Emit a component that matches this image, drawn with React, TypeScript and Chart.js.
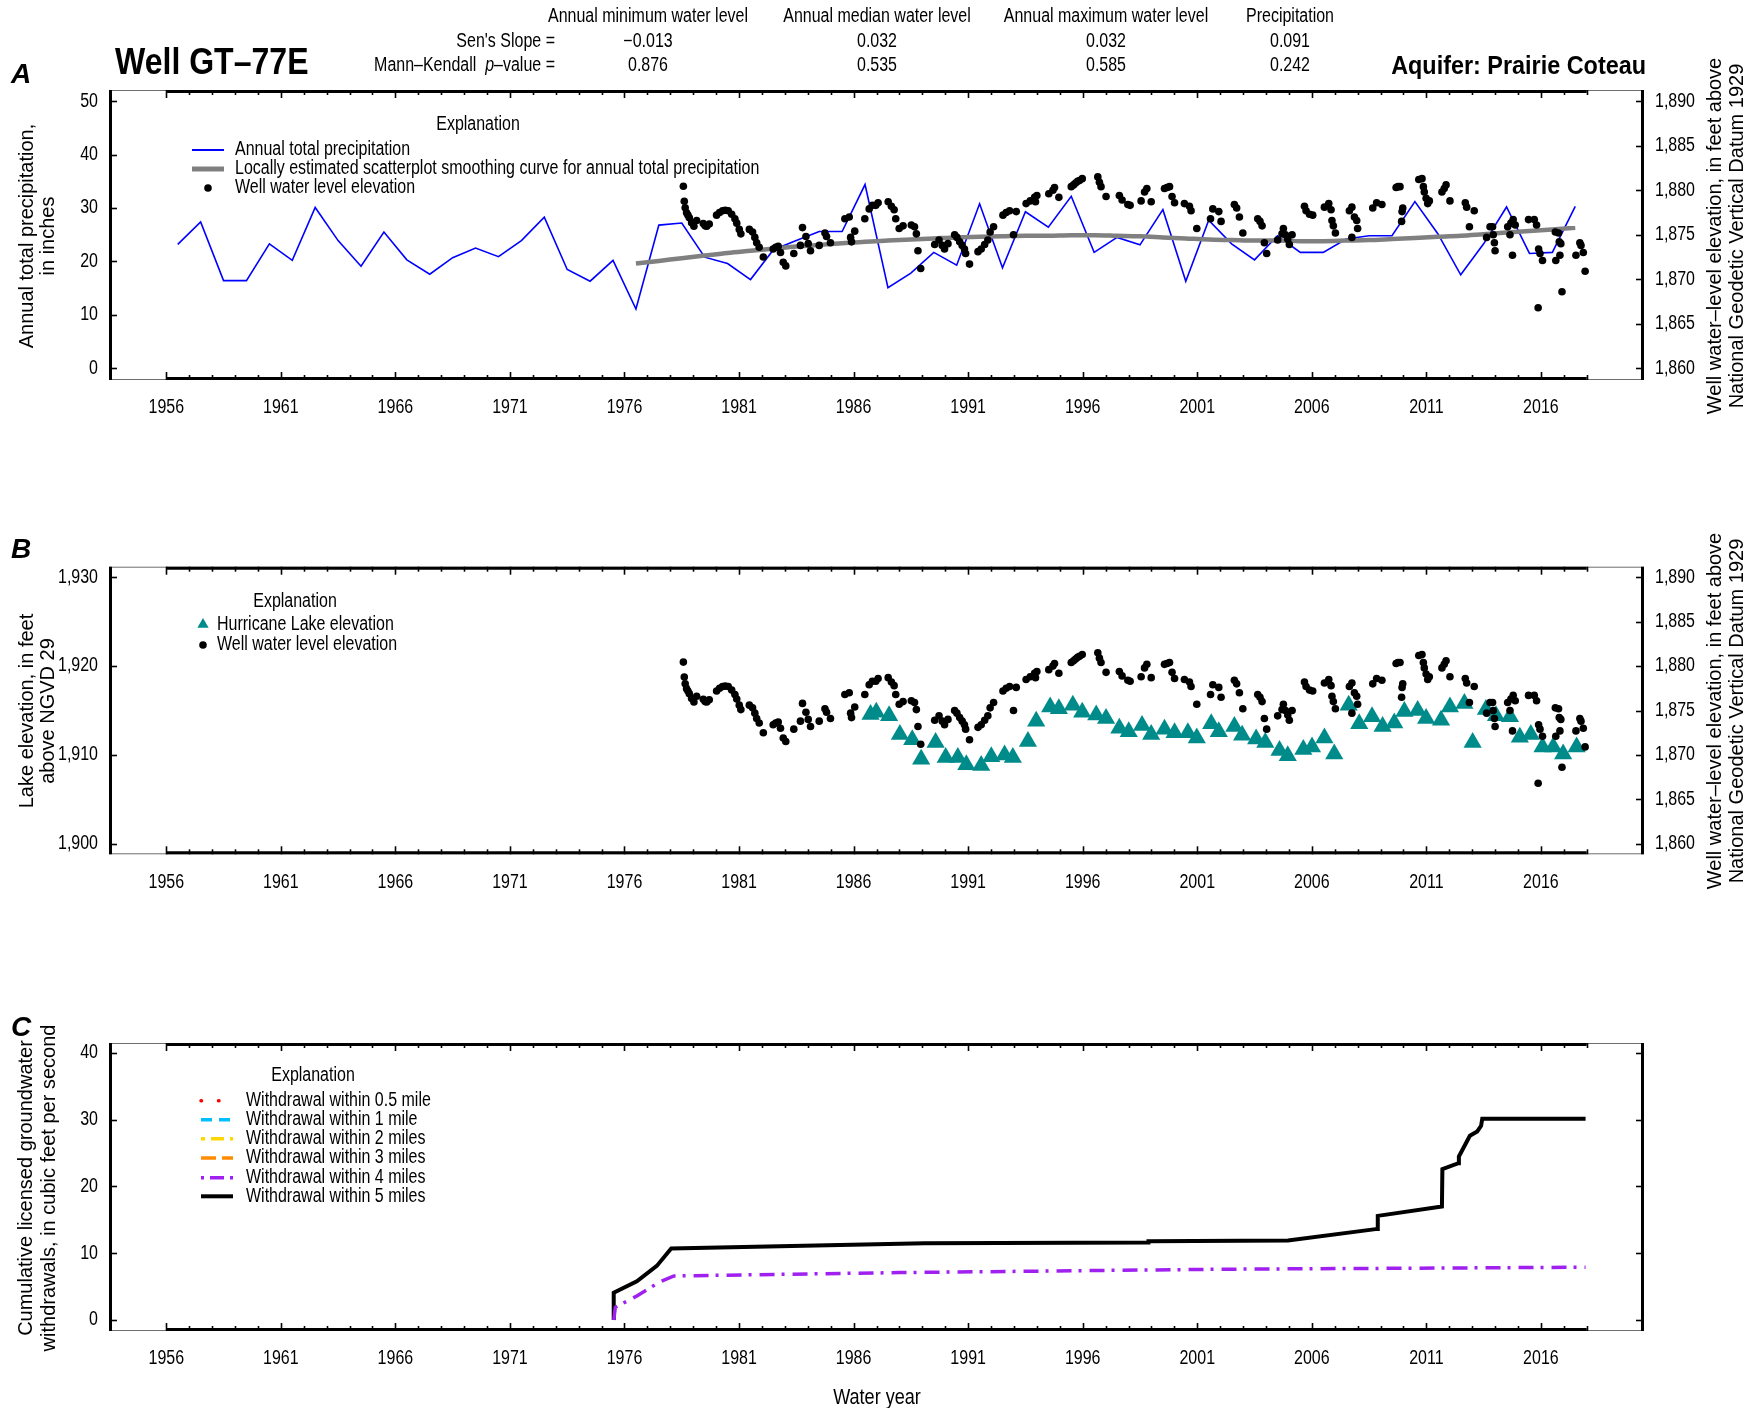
import React, { useEffect, useRef } from "react";
import { Chart, registerables } from "chart.js";

Chart.register(...registerables);

const ARIAL = '"Liberation Sans", Arial, Helvetica, sans-serif';
const NARROW_SCALE = 0.82; // Arial-Narrow-like compression of Liberation Sans

// ---------------- data ----------------
const PRECIP_YEARS = [
  1956, 1957, 1958, 1959, 1960, 1961, 1962, 1963, 1964, 1965, 1966, 1967, 1968, 1969, 1970, 1971,
  1972, 1973, 1974, 1975, 1976, 1977, 1978, 1979, 1980, 1981, 1982, 1983, 1984, 1985, 1986, 1987,
  1988, 1989, 1990, 1991, 1992, 1993, 1994, 1995, 1996, 1997, 1998, 1999, 2000, 2001, 2002, 2003,
  2004, 2005, 2006, 2007, 2008, 2009, 2010, 2011, 2012, 2013, 2014, 2015, 2016, 2017,
];
const PRECIP_INCHES = [
  23.2, 27.4, 16.4, 16.4, 23.3, 20.2, 30.1, 23.9, 19.1, 25.5, 20.3, 17.6, 20.7, 22.5, 20.9, 23.9,
  28.3, 18.5, 16.3, 20.2, 11.1, 26.8, 27.2, 20.8, 19.6, 16.6, 22.2, 23.9, 25.6, 25.6, 34.4, 15.1,
  17.8, 21.7, 19.3, 30.8, 18.8, 29.3, 26.4, 32.2, 21.7, 24.5, 23.1, 29.7, 16.3, 27.7, 23.3, 20.3,
  24.8, 21.7, 21.7, 24.2, 24.8, 24.8, 31.2, 25.2, 17.5, 23.3, 30.2, 21.5, 21.7, 30.3,
];
const LOESS_YEARS = [
  1976, 1977, 1978, 1979, 1980, 1981, 1982, 1983, 1984, 1985, 1986, 1987, 1988, 1989, 1990, 1991,
  1992, 1993, 1994, 1995, 1996, 1997, 1998, 1999, 2000, 2001, 2002, 2003, 2004, 2005, 2006, 2007,
  2008, 2009, 2010, 2011, 2012, 2013, 2014, 2015, 2016, 2017,
];
const LOESS_INCHES = [
  19.6, 20.1, 20.6, 21.1, 21.6, 22.0, 22.4, 22.8, 23.1, 23.4, 23.7, 23.9, 24.1, 24.3, 24.5, 24.6,
  24.7, 24.8, 24.8, 24.9, 24.9, 24.8, 24.7, 24.5, 24.3, 24.1, 24.0, 23.9, 23.9, 23.8, 23.8, 23.9,
  24.0, 24.2, 24.4, 24.6, 24.8, 25.1, 25.4, 25.7, 26.0, 26.3,
];

// [decimal year, well water-level elevation (ft above NGVD 29)]
const WELL_LEVELS: [number, number][] = [
  [1978.57, 1880.45], [1978.61, 1878.76], [1978.65, 1878.02], [1978.71, 1877.46], [1978.77, 1877.2],
  [1978.83, 1876.9], [1978.93, 1876.34], [1979.03, 1875.96], [1979.15, 1876.6], [1979.44, 1876.26],
  [1979.52, 1876.0], [1979.59, 1875.96], [1979.7, 1876.2], [1980.02, 1877.2], [1980.15, 1877.5],
  [1980.28, 1877.7], [1980.4, 1877.75], [1980.53, 1877.7], [1980.68, 1877.3], [1980.82, 1876.8],
  [1980.9, 1876.3], [1981.01, 1875.6], [1981.08, 1875.1], [1981.45, 1875.6], [1981.59, 1875.3],
  [1981.69, 1874.7], [1981.77, 1874.1], [1981.88, 1873.6], [1982.06, 1872.5], [1982.49, 1873.4],
  [1982.6, 1873.6], [1982.71, 1873.7], [1982.81, 1873.0], [1982.93, 1871.9], [1983.04, 1871.5],
  [1983.39, 1872.9], [1983.68, 1873.8], [1983.77, 1875.8], [1983.92, 1874.8], [1984.02, 1874.0],
  [1984.12, 1873.2], [1984.5, 1873.8], [1984.75, 1875.2], [1984.82, 1874.8], [1984.99, 1874.1],
  [1985.62, 1876.8], [1985.81, 1877.0], [1985.87, 1874.7], [1985.91, 1874.2], [1986.05, 1875.4],
  [1986.49, 1876.8], [1986.68, 1877.9], [1986.82, 1878.3], [1986.97, 1878.3], [1987.07, 1878.6],
  [1987.51, 1878.7], [1987.65, 1878.2], [1987.77, 1877.8], [1987.84, 1876.8], [1987.99, 1875.7],
  [1988.16, 1876.0], [1988.52, 1876.1], [1988.66, 1875.9], [1988.74, 1875.1], [1988.81, 1873.2],
  [1988.93, 1871.2], [1989.54, 1873.9], [1989.73, 1874.4], [1989.87, 1873.8], [1989.97, 1873.4],
  [1990.12, 1874.0], [1990.41, 1875.0], [1990.51, 1874.7], [1990.63, 1874.2], [1990.74, 1873.8],
  [1990.84, 1873.4], [1990.89, 1872.9], [1991.06, 1871.7], [1991.43, 1873.1], [1991.57, 1873.4],
  [1991.72, 1873.9], [1991.86, 1874.4], [1991.96, 1875.3], [1992.11, 1875.9], [1992.52, 1877.2],
  [1992.66, 1877.5], [1992.81, 1877.7], [1992.98, 1875.0], [1993.1, 1877.6], [1993.53, 1878.5],
  [1993.71, 1878.8], [1993.9, 1879.2], [1993.94, 1878.7], [1994.0, 1879.4], [1994.52, 1879.6],
  [1994.7, 1880.0], [1994.77, 1880.3], [1994.96, 1879.2], [1995.5, 1880.4], [1995.6, 1880.6],
  [1995.69, 1880.8], [1995.78, 1881.0], [1995.86, 1881.1], [1995.98, 1881.3], [1996.66, 1881.5],
  [1996.73, 1880.9], [1996.8, 1880.4], [1997.02, 1879.3], [1997.6, 1879.4], [1997.72, 1878.9],
  [1997.97, 1878.4], [1998.07, 1878.3], [1998.55, 1878.8], [1998.7, 1879.8], [1998.8, 1880.2],
  [1998.99, 1878.7], [1999.57, 1880.2], [1999.68, 1880.3], [1999.79, 1880.4], [1999.9, 1879.3],
  [2000.01, 1878.6], [2000.44, 1878.5], [2000.66, 1878.2], [2000.73, 1877.7], [2000.98, 1875.7],
  [2001.58, 1876.8], [2001.68, 1877.9], [2001.94, 1877.6], [2002.04, 1876.5], [2002.62, 1878.4],
  [2002.72, 1878.0], [2002.84, 1877.0], [2002.99, 1875.2], [2003.64, 1876.8], [2003.74, 1876.5],
  [2003.83, 1876.0], [2003.93, 1874.1], [2004.03, 1872.9], [2004.51, 1874.4], [2004.7, 1875.1],
  [2004.76, 1875.7], [2004.85, 1875.0], [2004.95, 1874.5], [2005.02, 1873.9], [2005.14, 1875.0],
  [2005.68, 1878.2], [2005.75, 1877.7], [2005.9, 1877.3], [2006.04, 1877.2], [2006.55, 1878.1],
  [2006.74, 1878.5], [2006.84, 1877.8], [2006.88, 1876.6], [2006.94, 1876.0], [2007.03, 1875.2],
  [2007.64, 1877.7], [2007.75, 1878.1], [2007.75, 1874.7], [2007.86, 1877.0], [2007.96, 1876.6],
  [2008.0, 1875.7], [2008.66, 1878.0], [2008.83, 1878.6], [2009.06, 1878.4], [2009.68, 1880.3],
  [2009.76, 1880.4], [2009.85, 1880.4], [2009.97, 1878.0], [2009.94, 1877.6], [2009.92, 1876.5],
  [2010.67, 1881.2], [2010.81, 1881.3], [2010.87, 1880.4], [2010.91, 1879.8], [2010.99, 1879.1],
  [2011.06, 1878.5], [2011.13, 1878.8], [2011.68, 1879.8], [2011.78, 1880.2], [2011.86, 1880.6],
  [2012.03, 1878.8], [2012.7, 1878.6], [2012.76, 1878.1], [2012.88, 1875.9], [2013.09, 1877.7],
  [2013.63, 1874.7], [2013.78, 1875.9], [2013.89, 1875.9], [2013.92, 1875.0], [2013.97, 1874.1],
  [2014.0, 1873.2], [2014.55, 1875.9], [2014.65, 1875.0], [2014.69, 1876.3], [2014.79, 1876.7],
  [2014.88, 1876.1], [2014.76, 1872.7], [2015.46, 1876.7], [2015.71, 1876.7], [2015.81, 1876.1],
  [2015.88, 1866.8], [2015.9, 1873.4], [2015.96, 1872.9], [2016.07, 1872.1], [2016.63, 1875.3],
  [2016.77, 1875.2], [2016.8, 1874.2], [2016.87, 1874.0], [2016.83, 1872.7], [2016.65, 1872.1],
  [2016.92, 1868.6], [2017.53, 1872.7], [2017.7, 1874.1], [2017.75, 1873.8], [2017.85, 1873.0],
  [2017.93, 1870.9],
];

// [decimal year, Hurricane Lake elevation (ft above NGVD 29)]
const LAKE_LEVELS: [number, number][] = [
  [1986.74, 1914.55], [1986.99, 1914.8], [1987.55, 1914.4], [1988.02, 1912.3], [1988.56, 1911.7],
  [1988.95, 1909.5], [1989.58, 1911.4], [1990.02, 1909.7], [1990.55, 1909.7], [1990.92, 1908.9],
  [1991.57, 1908.8], [1992.01, 1909.8], [1992.59, 1910.0], [1992.95, 1909.7], [1993.61, 1911.5],
  [1993.97, 1913.8], [1994.58, 1915.4], [1994.96, 1915.2], [1995.57, 1915.6], [1995.98, 1914.8],
  [1996.59, 1914.5], [1997.02, 1914.1], [1997.6, 1913.0], [1998.01, 1912.6], [1998.59, 1913.3],
  [1998.99, 1912.3], [1999.57, 1912.9], [2000.01, 1912.5], [2000.59, 1912.5], [2000.98, 1911.9],
  [2001.61, 1913.5], [2001.94, 1912.6], [2002.62, 1913.2], [2002.96, 1912.2], [2003.57, 1911.8],
  [2003.97, 1911.4], [2004.59, 1910.5], [2004.95, 1909.9], [2005.63, 1910.6], [2006.01, 1910.9],
  [2006.55, 1911.9], [2006.98, 1910.1], [2007.61, 1915.6], [2008.07, 1913.5], [2008.63, 1914.3],
  [2009.09, 1913.2], [2009.6, 1913.6], [2010.04, 1914.9], [2010.62, 1915.0], [2010.99, 1914.1],
  [2011.64, 1913.9], [2012.03, 1915.4], [2012.66, 1915.8], [2013.02, 1911.4], [2013.6, 1915.1],
  [2014.04, 1914.4], [2014.65, 1914.3], [2015.08, 1912.0], [2015.56, 1912.3], [2016.07, 1910.9],
  [2016.54, 1910.9], [2016.97, 1910.1], [2017.56, 1910.9],
];

// cumulative licensed withdrawals, [decimal year, cubic feet per second]
const WITHDRAWAL_05MI: [number, number][] = [];
const WITHDRAWAL_1MI: [number, number][] = [];
const WITHDRAWAL_2MI: [number, number][] = [];
const WITHDRAWAL_3MI: [number, number][] = [];
const WITHDRAWAL_4MI: [number, number][] = [
  [1975.53, 0], [1975.6, 1.9], [1976.54, 3.6], [1977.54, 5.7], [1978.16, 6.6], [1988.0, 7.1],
  [2001.8, 7.6], [2017.95, 7.9],
];
const WITHDRAWAL_5MI: [number, number][] = [
  [1975.53, 0], [1975.53, 4.1], [1976.54, 5.8], [1977.41, 8.1], [1978.04, 10.7], [1989.1, 11.5],
  [1998.86, 11.6], [1998.87, 11.8], [2004.96, 11.9], [2008.87, 13.65], [2008.88, 15.6],
  [2011.68, 17.0], [2011.7, 22.6], [2012.4, 23.5], [2012.42, 24.5], [2012.9, 27.6],
  [2013.22, 28.25], [2013.39, 29.1], [2013.44, 30.15], [2017.95, 30.15],
];
const WITHDRAWAL_LABELS = [
  "Withdrawal within 0.5 mile",
  "Withdrawal within 1 mile",
  "Withdrawal within 2 miles",
  "Withdrawal within 3 miles",
  "Withdrawal within 4 miles",
  "Withdrawal within 5 miles",
];

const X_TICK_LABELS = [1956, 1961, 1966, 1971, 1976, 1981, 1986, 1991, 1996, 2001, 2006, 2011, 2016];
const X_AXIS_FIRST_YEAR = 1956;
const X_AXIS_LAST_YEAR = 2018;
const PRECIP_TICKS = [0, 10, 20, 30, 40, 50];
const WELL_TICKS = [1860, 1865, 1870, 1875, 1880, 1885, 1890];
const LAKE_TICKS = [1900, 1910, 1920, 1930];
const WITHDRAWAL_TICKS = [0, 10, 20, 30, 40];

const STAT_HEADERS = [
  "Annual minimum water level",
  "Annual median water level",
  "Annual maximum water level",
  "Precipitation",
];
const SENS_SLOPE = ["\u22120.013", "0.032", "0.032", "0.091"];
const MK_PVALUE = ["0.876", "0.535", "0.585", "0.242"];

// ---------------- layout constants ----------------
const W = 1758;
const PLOT_LEFT = 109;
const PLOT_RIGHT = 1644;
const X_MIN = 1953.5;
const X_MAX = 2020.5;
const LABEL_FONT = `19.5px ${ARIAL}`;
const STAT_COLS = [648, 877, 1106, 1290];

const fmtComma = (v: number) => Math.round(v).toLocaleString("en-US");
const fmtPlain = (v: number) => String(v);

function narrowText(
  ctx: CanvasRenderingContext2D,
  text: string,
  x: number,
  y: number,
  align: CanvasTextAlign,
  font = LABEL_FONT
) {
  ctx.save();
  ctx.font = font;
  ctx.fillStyle = "#000";
  ctx.textBaseline = "middle";
  ctx.textAlign = align;
  ctx.translate(x, y);
  ctx.scale(NARROW_SCALE, 1);
  ctx.fillText(text, 0, 0);
  ctx.restore();
}

function xScale(axisHeight: number) {
  return {
    type: "linear",
    min: X_MIN,
    max: X_MAX,
    afterBuildTicks: (s: any) => {
      s.ticks = X_TICK_LABELS.map((v) => ({ value: v }));
    },
    afterFit: (s: any) => {
      s.height = axisHeight;
    },
    ticks: { display: false },
    grid: { display: false, drawTicks: false },
    border: { display: false },
  };
}

function yScale(min: number, max: number, ticks: number[], position: "left" | "right") {
  return {
    type: "linear",
    position,
    min,
    max,
    afterBuildTicks: (s: any) => {
      s.ticks = ticks.map((v) => ({ value: v }));
    },
    afterFit: (s: any) => {
      s.width = position === "left" ? PLOT_LEFT : W - PLOT_RIGHT;
    },
    ticks: { display: false },
    grid: { display: false, drawTicks: false },
    border: { display: false },
  };
}

// frame, axis lines, inward tick marks and tick labels (from the chart's scales)
function makeFramePlugin(leftFmt: (v: number) => string, rightFmt: ((v: number) => string) | null) {
  return {
    id: "frame",
    afterDatasetsDraw(chart: any) {
      const { ctx, chartArea: a, scales } = chart;
      const x = scales.x;
      const yl = scales.y;
      const yr = scales.y2 || scales.y;
      const seg = (x0: number, y0: number, x1: number, y1: number) => {
        ctx.beginPath();
        ctx.moveTo(x0, y0);
        ctx.lineTo(x1, y1);
        ctx.stroke();
      };
      ctx.save();
      ctx.strokeStyle = "#6e6e6e";
      ctx.lineWidth = 1;
      ctx.strokeRect(a.left + 0.5, a.top + 0.5, a.right - a.left - 1, a.bottom - a.top - 1);
      ctx.strokeStyle = "#000";
      ctx.lineWidth = 3;
      const xa = x.getPixelForValue(X_AXIS_FIRST_YEAR);
      const xb = x.getPixelForValue(X_AXIS_LAST_YEAR);
      seg(xa, a.top + 1.5, xb, a.top + 1.5);
      seg(xa, a.bottom - 1.5, xb, a.bottom - 1.5);
      seg(a.left + 1.5, a.top, a.left + 1.5, a.bottom);
      seg(a.right - 1.5, a.top, a.right - 1.5, a.bottom);
      ctx.lineWidth = 1.6;
      for (let yv = X_AXIS_FIRST_YEAR; yv <= X_AXIS_LAST_YEAR; yv++) {
        const px = Math.round(x.getPixelForValue(yv)) + 0.5;
        const len = (yv - X_AXIS_FIRST_YEAR) % 5 === 0 ? 8 : 5;
        seg(px, a.top, px, a.top + len);
        seg(px, a.bottom, px, a.bottom - len);
      }
      yl.ticks.forEach((t: any) => {
        const py = Math.round(yl.getPixelForValue(t.value)) + 0.5;
        seg(a.left, py, a.left + 8, py);
      });
      yr.ticks.forEach((t: any) => {
        const py = Math.round(yr.getPixelForValue(t.value)) + 0.5;
        seg(a.right, py, a.right - 8, py);
      });
      ctx.restore();

      // tick labels
      x.ticks.forEach((t: any) => {
        narrowText(ctx, String(t.value), x.getPixelForValue(t.value), a.bottom + 28, "center");
      });
      yl.ticks.forEach((t: any) => {
        narrowText(ctx, leftFmt(t.value), a.left - 11, yl.getPixelForValue(t.value), "right");
      });
      if (rightFmt && scales.y2) {
        scales.y2.ticks.forEach((t: any) => {
          narrowText(ctx, rightFmt(t.value), a.right + 11, scales.y2.getPixelForValue(t.value), "left");
        });
      }
    },
  };
}

type Sample = (ctx: CanvasRenderingContext2D, x0: number, x1: number, y: number) => void;
const lineSample =
  (color: string, width: number, dash: number[], cap: CanvasLineCap = "butt"): Sample =>
  (ctx, x0, x1, y) => {
    ctx.strokeStyle = color;
    ctx.lineWidth = width;
    ctx.setLineDash(dash);
    ctx.lineCap = cap;
    ctx.beginPath();
    ctx.moveTo(x0, y);
    ctx.lineTo(x1, y);
    ctx.stroke();
  };
const dotSample =
  (color: string, r: number): Sample =>
  (ctx, x0, x1, y) => {
    ctx.fillStyle = color;
    ctx.beginPath();
    ctx.arc((x0 + x1) / 2, y, r, 0, Math.PI * 2);
    ctx.fill();
  };
const triSample =
  (color: string, r: number): Sample =>
  (ctx, x0, x1, y) => {
    const cx = (x0 + x1) / 2;
    ctx.fillStyle = color;
    ctx.beginPath();
    ctx.moveTo(cx, y - r);
    ctx.lineTo(cx + r * 0.866, y + r / 2);
    ctx.lineTo(cx - r * 0.866, y + r / 2);
    ctx.closePath();
    ctx.fill();
  };

function legendPlugin(
  titleX: number,
  titleY: number,
  sx0: number,
  sx1: number,
  textX: number,
  rows: { y: number; label: string; sample: Sample }[]
) {
  return {
    id: "explanation",
    afterDraw(chart: any) {
      const ctx: CanvasRenderingContext2D = chart.ctx;
      narrowText(ctx, "Explanation", titleX, titleY, "center");
      rows.forEach((r) => {
        ctx.save();
        r.sample(ctx, sx0, sx1, r.y);
        ctx.restore();
        narrowText(ctx, r.label, textX, r.y, "left");
      });
    },
  };
}

const pts = (arr: [number, number][]) => arr.map(([x, y]) => ({ x, y }));

const COMMON_OPTS = {
  responsive: false,
  animation: false,
  devicePixelRatio: 1,
  events: [],
  plugins: { legend: { display: false }, tooltip: { enabled: false } },
};

// ---------------- panel configs ----------------
const A_TOP = 0, A_H = 440;
const B_TOP = 440, B_H = 460;
const C_TOP = 900, C_H = 508;

function configA(): any {
  const precipLabel = "Annual total precipitation";
  const loessLabel = "Locally estimated scatterplot smoothing curve for annual total precipitation";
  const wellLabel = "Well water level elevation";
  return {
    type: "scatter",
    data: {
      datasets: [
        {
          label: wellLabel,
          yAxisID: "y2",
          data: pts(WELL_LEVELS),
          pointRadius: 3.8,
          pointBackgroundColor: "#000",
          pointBorderWidth: 0,
          showLine: false,
        },
        {
          label: loessLabel,
          yAxisID: "y",
          data: LOESS_YEARS.map((yr, i) => ({ x: yr + 0.5, y: LOESS_INCHES[i] })),
          showLine: true,
          borderColor: "#808080",
          borderWidth: 4.5,
          pointRadius: 0,
          cubicInterpolationMode: "monotone",
        },
        {
          label: precipLabel,
          yAxisID: "y",
          data: PRECIP_YEARS.map((yr, i) => ({ x: yr + 0.5, y: PRECIP_INCHES[i] })),
          showLine: true,
          borderColor: "#0000ff",
          borderWidth: 1.6,
          pointRadius: 0,
        },
      ],
    },
    options: {
      ...COMMON_OPTS,
      layout: { padding: { top: 90 - A_TOP, left: 0, right: 0, bottom: 0 } },
      scales: {
        x: xScale(A_H - (380 - A_TOP)),
        y: yScale(-2.2, 52.1, PRECIP_TICKS, "left"),
        y2: yScale(1860 - 2.2 * 0.6, 1860 + 52.1 * 0.6, WELL_TICKS, "right"),
      },
    },
    plugins: [
      makeFramePlugin(fmtPlain, fmtComma),
      legendPlugin(478, 125 - A_TOP, 192, 224, 235, [
        { y: 150 - A_TOP, label: precipLabel, sample: lineSample("#0000ff", 2, []) },
        { y: 169 - A_TOP, label: loessLabel, sample: lineSample("#808080", 5, []) },
        { y: 188 - A_TOP, label: wellLabel, sample: dotSample("#000", 3.8) },
      ]),
    ],
  };
}

function configB(): any {
  const lakeLabel = "Hurricane Lake elevation";
  const wellLabel = "Well water level elevation";
  return {
    type: "scatter",
    data: {
      datasets: [
        {
          label: wellLabel,
          yAxisID: "y2",
          data: pts(WELL_LEVELS),
          pointRadius: 3.8,
          pointBackgroundColor: "#000",
          pointBorderWidth: 0,
        },
        {
          label: lakeLabel,
          yAxisID: "y",
          data: pts(LAKE_LEVELS),
          pointStyle: "triangle",
          pointRadius: 10.5,
          pointBackgroundColor: "#008b8b",
          pointBorderWidth: 0,
        },
      ],
    },
    options: {
      ...COMMON_OPTS,
      layout: { padding: { top: 566.7 - B_TOP, left: 0, right: 0, bottom: 0 } },
      scales: {
        x: xScale(B_H - (854.3 - B_TOP)),
        y: yScale(1898.8, 1931.2, LAKE_TICKS, "left"),
        y2: yScale(1858.8, 1891.2, WELL_TICKS, "right"),
      },
    },
    plugins: [
      makeFramePlugin(fmtComma, fmtComma),
      legendPlugin(295, 602 - B_TOP, 193, 213, 217, [
        { y: 624.5 - B_TOP, label: lakeLabel, sample: triSample("#008b8b", 6.5) },
        { y: 645 - B_TOP, label: wellLabel, sample: dotSample("#000", 3.8) },
      ]),
    ],
  };
}

const WITHDRAWAL_STYLES = [
  { color: "#ff0000", dash: [0.5, 17], cap: "round" as CanvasLineCap, width: 3.5 },
  { color: "#00bfff", dash: [11, 7], cap: "butt" as CanvasLineCap, width: 3.5 },
  { color: "#ffd700", dash: [4, 6, 13, 6], cap: "butt" as CanvasLineCap, width: 3.5 },
  { color: "#ff8c00", dash: [15, 6], cap: "butt" as CanvasLineCap, width: 3.5 },
  { color: "#a020f0", dash: [3, 6, 14, 6], cap: "butt" as CanvasLineCap, width: 3.5 },
  { color: "#000000", dash: [], cap: "butt" as CanvasLineCap, width: 4 },
];

function configC(): any {
  const series = [WITHDRAWAL_05MI, WITHDRAWAL_1MI, WITHDRAWAL_2MI, WITHDRAWAL_3MI, WITHDRAWAL_4MI, WITHDRAWAL_5MI];
  const rowsY = [1100.7, 1119.7, 1138.7, 1158, 1177.7, 1196.3];
  return {
    type: "scatter",
    data: {
      datasets: series.map((s, i) => ({
        label: WITHDRAWAL_LABELS[i],
        data: pts(s),
        showLine: true,
        borderColor: WITHDRAWAL_STYLES[i].color,
        borderWidth: WITHDRAWAL_STYLES[i].width,
        borderDash: i === 4 ? [15, 7, 3, 8] : WITHDRAWAL_STYLES[i].dash,
        borderCapStyle: WITHDRAWAL_STYLES[i].cap,
        borderJoinStyle: "miter",
        pointRadius: 0,
      })),
    },
    options: {
      ...COMMON_OPTS,
      layout: { padding: { top: 1043 - C_TOP, left: 0, right: W - PLOT_RIGHT, bottom: 0 } },
      scales: {
        x: xScale(C_H - (1331 - C_TOP)),
        y: yScale(-1.65, 41.5, WITHDRAWAL_TICKS, "left"),
      },
    },
    plugins: [
      makeFramePlugin(fmtPlain, null),
      legendPlugin(
        313,
        1076 - C_TOP,
        201,
        233,
        246,
        WITHDRAWAL_LABELS.map((label, i) => ({
          y: rowsY[i] - C_TOP,
          label,
          sample: lineSample(WITHDRAWAL_STYLES[i].color, WITHDRAWAL_STYLES[i].width, WITHDRAWAL_STYLES[i].dash, WITHDRAWAL_STYLES[i].cap),
        }))
      ),
    ],
  };
}

// ---------------- components ----------------
function ChartCanvas({ top, height, build }: { top: number; height: number; build: () => any }) {
  const ref = useRef<HTMLCanvasElement>(null);
  useEffect(() => {
    const chart = new Chart(ref.current as HTMLCanvasElement, build());
    return () => chart.destroy();
  }, []);
  return (
    <canvas
      ref={ref}
      width={W}
      height={height}
      style={{ position: "absolute", left: 0, top, width: W, height, display: "block" }}
    />
  );
}

function Txt({
  x,
  y,
  align = "center",
  size = 19.5,
  weight = "normal",
  italic = false,
  sx = NARROW_SCALE,
  children,
}: {
  x: number;
  y: number;
  align?: "center" | "left" | "right";
  size?: number;
  weight?: string;
  italic?: boolean;
  sx?: number;
  children: React.ReactNode;
}) {
  const tx = align === "center" ? "-50%" : align === "right" ? "-100%" : "0";
  const origin = align === "center" ? "center center" : align === "right" ? "right center" : "left center";
  return (
    <div
      style={{
        position: "absolute",
        left: x,
        top: y,
        transform: `translate(${tx}, -50%) scaleX(${sx})`,
        transformOrigin: origin,
        whiteSpace: "nowrap",
        fontFamily: ARIAL,
        fontSize: size,
        fontWeight: weight as any,
        fontStyle: italic ? "italic" : "normal",
        lineHeight: 1,
        color: "#000",
      }}
    >
      {children}
    </div>
  );
}

function VTxt({ x, y, children }: { x: number; y: number; children: React.ReactNode }) {
  return (
    <div
      style={{
        position: "absolute",
        left: x,
        top: y,
        transform: "translate(-50%, -50%) rotate(-90deg)",
        whiteSpace: "nowrap",
        fontFamily: ARIAL,
        fontSize: 20,
        lineHeight: 1,
        color: "#000",
      }}
    >
      {children}
    </div>
  );
}

export default function App() {
  useEffect(() => {
    document.body.style.margin = "0";
  }, []);
  const wellAxis = ["Well water\u2013level elevation, in feet above", "National Geodetic Vertical Datum 1929"];
  return (
    <div
      style={{
        position: "absolute",
        left: 0,
        top: 0,
        width: W,
        height: 1408,
        overflow: "hidden",
        background: "#fff",
      }}
    >
      <ChartCanvas top={A_TOP} height={A_H} build={configA} />
      <ChartCanvas top={B_TOP} height={B_H} build={configB} />
      <ChartCanvas top={C_TOP} height={C_H} build={configC} />

      {/* header */}
      {STAT_HEADERS.map((h, i) => (
        <Txt key={"h" + i} x={STAT_COLS[i]} y={16}>
          {h}
        </Txt>
      ))}
      <Txt x={555} y={41} align="right">
        Sen's Slope =
      </Txt>
      <Txt x={555} y={65} align="right">
        Mann–Kendall&nbsp;&nbsp;<i>p</i>–value =
      </Txt>
      {SENS_SLOPE.map((v, i) => (
        <Txt key={"s" + i} x={STAT_COLS[i]} y={41}>
          {v}
        </Txt>
      ))}
      {MK_PVALUE.map((v, i) => (
        <Txt key={"p" + i} x={STAT_COLS[i]} y={65}>
          {v}
        </Txt>
      ))}
      <Txt x={115} y={62} align="left" size={36} weight="bold" sx={0.89}>
        Well GT–77E
      </Txt>
      <Txt x={1646} y={65} align="right" size={26} weight="bold" sx={0.9}>
        Aquifer: Prairie Coteau
      </Txt>

      {/* panel letters */}
      <Txt x={21} y={74} size={28} weight="bold" italic sx={1}>
        A
      </Txt>
      <Txt x={21} y={549} size={28} weight="bold" italic sx={1}>
        B
      </Txt>
      <Txt x={21} y={1027} size={28} weight="bold" italic sx={1}>
        C
      </Txt>

      {/* axis titles */}
      <VTxt x={26} y={236}>Annual total precipitation,</VTxt>
      <VTxt x={47} y={236}>in inches</VTxt>
      <VTxt x={1714} y={236}>{wellAxis[0]}</VTxt>
      <VTxt x={1736} y={236}>{wellAxis[1]}</VTxt>

      <VTxt x={26} y={711}>Lake elevation, in feet</VTxt>
      <VTxt x={47} y={711}>above NGVD 29</VTxt>
      <VTxt x={1714} y={711}>{wellAxis[0]}</VTxt>
      <VTxt x={1736} y={711}>{wellAxis[1]}</VTxt>

      <VTxt x={25} y={1188}>Cumulative licensed groundwater</VTxt>
      <VTxt x={48} y={1188}>withdrawals, in cubic feet per second</VTxt>

      <Txt x={877} y={1397} size={22}>
        Water year
      </Txt>
    </div>
  );
}
